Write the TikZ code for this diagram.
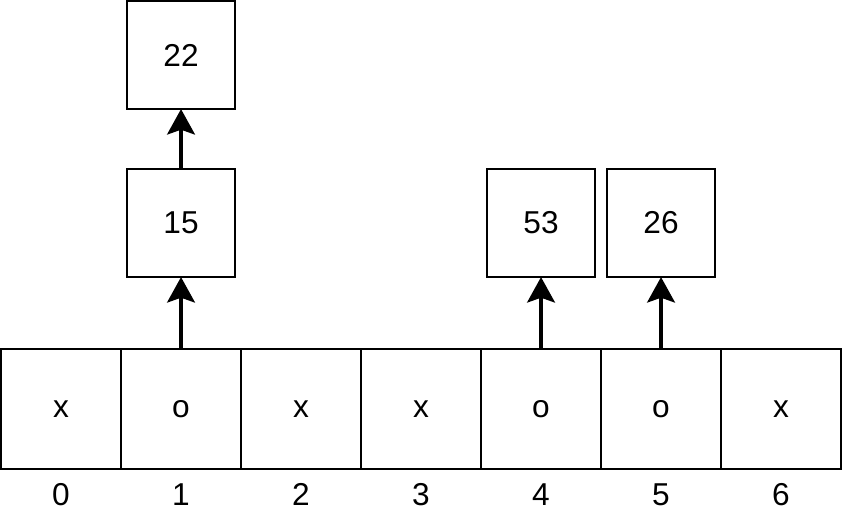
\documentclass[tikz,border=0pt]{standalone}
\usepackage{fontspec}
\setmainfont{Liberation Sans}
\usetikzlibrary{arrows.meta,positioning}

\begin{document}
\begin{tikzpicture}[>={Stealth[length=12pt,width=13pt,inset=2.2pt]},
                    every node/.style={font=\fontsize{15}{18}\selectfont},
                    cell/.style={draw,line width=0.7pt,minimum size=2cm,inner sep=0pt,outer sep=0pt},
                    box/.style={draw,line width=0.7pt,minimum size=1.8cm,inner sep=0pt,outer sep=0pt},
                    idx/.style={inner sep=0pt},
                    ptr/.style={->,line width=2.3pt}]
                  \useasboundingbox (0,0.017) rectangle (14.033,-8.717);
                  \node[cell]  		(c0) at (1.017,-6.8) {x};
                  \node[cell]          (c1) [right=0pt of c0] {o};
                  \node[cell] 			(c2) [right=0pt of c1] {x};
                  \node[cell] 			(c3) [right=0pt of c2] {x};
                  \node[cell]			(c4) [right=0pt of c3] {o};
                  \node[cell]			(c5) [right=0pt of c4] {o};
                  \node[cell]			(c6) [right=0pt of c5] {x};

                  \foreach \i in {0,...,6}
                      \node[idx] (i\i) [below=0.23cm of c\i] {\i};

                  \node[box] 			(b15) [above=1.2cm of c1] {15};
                  \node[box] 			(b22) [above=1cm of b15] {22};
                  \node[box] 			(b53) [above=1.2cm of c4] {53};
                  \node[box] 			(b26) [above=1.2cm of c5] {26};

                      \draw[ptr]
                               (c1) edge (b15)
                               (b15) edge (b22)
                               (c4) edge (b53)
                               (c5) edge (b26);
        \end{tikzpicture}
\end{document}
